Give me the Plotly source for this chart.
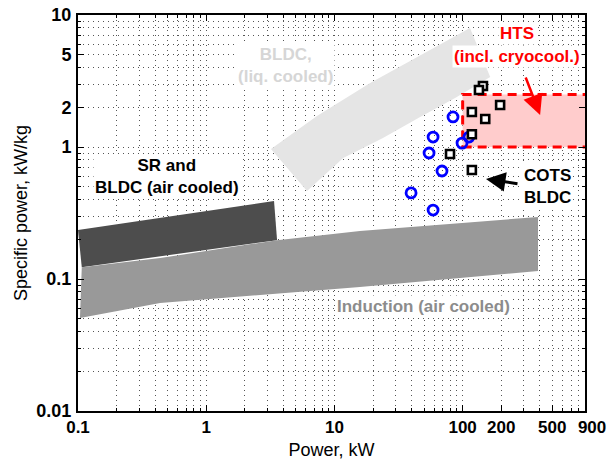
import numpy as np
import plotly.graph_objects as go

# ---- data -------------------------------------------------------------
# BLDC, liquid cooled band (outline, kW vs kW/kg)
bldc_liq_kw = [3.20, 7.31, 19.0, 46.6, 114, 164, 87.3, 46.6, 23.9, 11.7, 6.11, 3.20]
bldc_liq_spec = [0.966, 1.72, 3.06, 4.98, 7.98, 3.39, 2.35, 1.69, 1.17, 0.826, 0.464, 0.966]

# SR and BLDC, air cooled band
sr_air_kw = [0.100, 3.38, 3.57, 0.107, 0.100]
sr_air_spec = [0.235, 0.390, 0.197, 0.123, 0.235]

# Induction, air cooled band
ind_kw = [0.107, 0.437, 3.57, 15.8, 387, 387, 15.8, 2.63, 0.437, 0.1036, 0.107]
ind_spec = [0.123, 0.144, 0.197, 0.231, 0.295, 0.115, 0.0869, 0.0757, 0.0658, 0.0507, 0.123]

# HTS region (incl. cryocooler)
hts_kw = [100, 1000, 1000, 100, 100]
hts_spec = [1.0, 1.0, 2.5, 2.5, 1.0]

# Individual machines (blue circles)
circ_kw = [84.1, 58.8, 54.7, 98.9, 112, 69.0, 39.6, 58.8]
circ_spec = [1.69, 1.19, 0.901, 1.07, 1.19, 0.658, 0.449, 0.333]

# COTS BLDC machines (black squares)
sq_kw = [144, 134, 196, 118, 150, 118, 79.7, 118]
sq_spec = [2.90, 2.70, 2.08, 1.84, 1.63, 1.25, 0.885, 0.670]

# Axis ticks
x_ticks = [0.1, 1, 10, 100, 200, 500, 900]
x_tick_text = ["0.1", "1", "10", "100", "200", "500", "\u00a0\u00a0\u00a0900"]
y_ticks = [0.01, 0.1, 1, 2, 5, 10]
y_tick_text = ["0.01", "0.1", "1", "2", "5", "10"]

# Label anchors (kW, kW/kg)
lbl_hts = (265, 7.2)
lbl_hts2 = (265, 4.81)
lbl_sr = (0.495, 0.593)
lbl_cots = (455, 0.498)
lbl_liq = (4.12, 4.11)
lbl_ind = (49.1, 0.0624)

# Arrows: (tail, head)
arrow_hts = ((307, 3.45), (402, 1.75))
arrow_cots = ((275, 0.525), (152, 0.573))

# ---- figure -----------------------------------------------------------
FONT = "Liberation Sans, Arial, Helvetica, sans-serif"

fig = go.Figure()

fig.add_trace(go.Scatter(x=bldc_liq_kw, y=bldc_liq_spec, mode="lines", fill="toself",
                         fillcolor="#e5e5e5", line=dict(width=0, color="#e5e5e5"),
                         hoverinfo="skip", showlegend=False))
fig.add_trace(go.Scatter(x=sr_air_kw, y=sr_air_spec, mode="lines", fill="toself",
                         fillcolor="#4d4d4d", line=dict(width=0, color="#4d4d4d"),
                         hoverinfo="skip", showlegend=False))
fig.add_trace(go.Scatter(x=ind_kw, y=ind_spec, mode="lines", fill="toself",
                         fillcolor="#999999", line=dict(width=0, color="#999999"),
                         hoverinfo="skip", showlegend=False))
fig.add_trace(go.Scatter(x=hts_kw, y=hts_spec, mode="lines", fill="toself",
                         fillcolor="#ffcccc",
                         line=dict(width=3, color="#ff0000", dash="9px,6px"),
                         hoverinfo="skip", showlegend=False))

fig.add_trace(go.Scatter(x=circ_kw, y=circ_spec, mode="markers",
                         marker=dict(symbol="circle", size=10, color="rgba(0,0,0,0)",
                                     line=dict(color="#0000ff", width=2.8)),
                         showlegend=False))
fig.add_trace(go.Scatter(x=sq_kw, y=sq_spec, mode="markers",
                         marker=dict(symbol="square", size=8, color="white",
                                     line=dict(color="black", width=2.6)),
                         showlegend=False))


def note(pos, text, color, **kw):
    fig.add_annotation(x=np.log10(pos[0]), y=np.log10(pos[1]), xref="x", yref="y",
                       text=text, showarrow=False, bgcolor="white",
                       font=dict(family=FONT, size=17, color=color, weight="bold"),
                       **kw)


note(lbl_hts, "HTS", "#ff0000")
note(lbl_hts2, "(incl. cryocool.)", "#ff0000")
note(lbl_sr, "SR and<br>BLDC (air cooled)", "black")
note(lbl_cots, "COTS<br>BLDC", "black")
note(lbl_liq, "BLDC,<br>(liq. cooled)", "#d6d6d6")
note(lbl_ind, "Induction (air cooled)", "#8c8c8c")


def arrow(tail_head, color, width, size):
    (tx, ty), (hx, hy) = tail_head
    fig.add_annotation(x=np.log10(hx), y=np.log10(hy), ax=np.log10(tx), ay=np.log10(ty),
                       xref="x", yref="y", axref="x", ayref="y", text="",
                       showarrow=True, arrowhead=2, arrowsize=size,
                       arrowwidth=width, arrowcolor=color)


arrow(arrow_hts, "#ff0000", 2.5, 1.6)
arrow(arrow_cots, "black", 3, 1.3)


def minor_vals(lo_exp, hi_exp, top):
    vals = []
    for e in range(lo_exp, hi_exp + 1):
        for k in range(1, 10):
            v = k * 10.0 ** e
            if v <= top * 1.0001:
                vals.append(v)
    return vals


grid = dict(showgrid=True, gridcolor="#555555", gridwidth=1, griddash="1px,4px")

fig.update_xaxes(type="log", range=[np.log10(0.1), np.log10(900)],
                 tickmode="array", tickvals=x_ticks, ticktext=x_tick_text,
                 ticks="inside", ticklen=6, tickwidth=1, tickcolor="black",
                 showline=True, linewidth=2, linecolor="black", mirror="allticks",
                 tickfont=dict(family=FONT, size=17, color="black", weight="bold"),
                 tickangle=0, ticklabelstandoff=0,
                 minor=dict(tickvals=minor_vals(-1, 2, 900), ticks="inside", ticklen=3,
                            tickcolor="black", **grid),
                 title=dict(text="Power, kW", standoff=21,
                            font=dict(family=FONT, size=18, color="black")),
                 zeroline=False, **grid)
fig.update_yaxes(type="log", range=[-2, 1],
                 tickmode="array", tickvals=y_ticks, ticktext=y_tick_text,
                 ticks="inside", ticklen=6, tickwidth=1, tickcolor="black",
                 showline=True, linewidth=2, linecolor="black", mirror="allticks",
                 tickfont=dict(family=FONT, size=18, color="black", weight="bold"),
                 ticklabelstandoff=1,
                 minor=dict(tickvals=minor_vals(-2, 0, 10), ticks="inside", ticklen=3,
                            tickcolor="black", **grid),
                 title=dict(text="Specific power, kW/kg", standoff=4,
                            font=dict(family=FONT, size=18, color="black")),
                 zeroline=False, **grid)

fig.update_layout(width=610, height=460, margin=dict(l=78, r=25, t=15, b=49, autoexpand=False),
                  paper_bgcolor="white", plot_bgcolor="white", showlegend=False)

fig.write_html("out.html")
